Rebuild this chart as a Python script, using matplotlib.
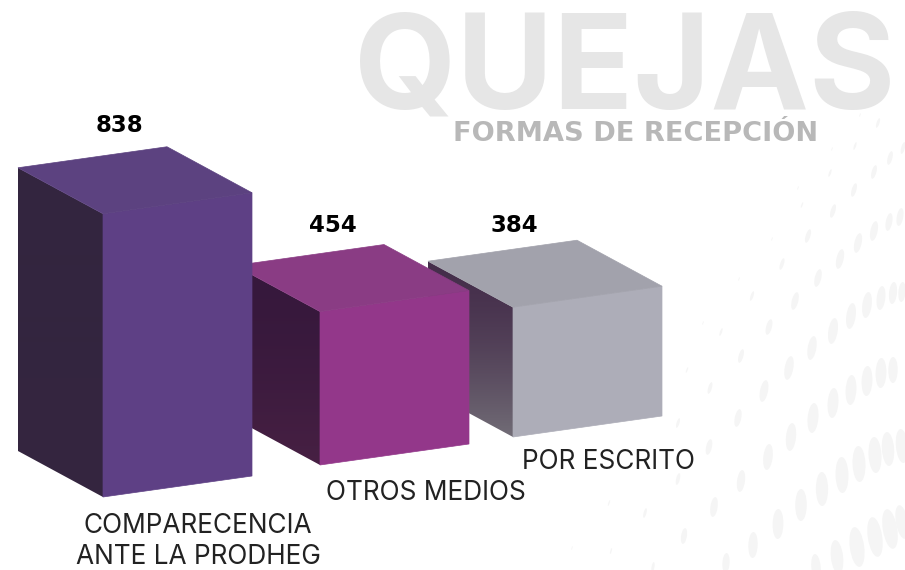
import numpy as np
import matplotlib
matplotlib.use("Agg")
import matplotlib.pyplot as plt
from matplotlib.patches import Ellipse
from matplotlib.colors import to_rgb

categories = ["COMPARECENCIA\nANTE LA PRODHEG", "OTROS MEDIOS", "POR ESCRITO"]
values = [838, 454, 384]
value_labels = ["838", "454", "384"]

# layout, in pixels of the 905x570 picture
px_per_unit = 0.338
front_x = [103, 320, 513]
base_y = [497, 465, 437]
left_dx, left_dy = 85, 46
right_dx, right_dy = 149, 21

front_col = ["#5e4085", "#93378a", "#adadb8"]
top_col = ["#5c4280", "#8a3c84", "#a2a2ac"]
side_top = ["#33253f", "#36183c", "#452e4b"]
side_bot = ["#35263f", "#472043", "#716c76"]

label_pos = [(119, 125.5), (333, 226), (514, 226)]
cat_pos = [(198, 541.5), (426, 493), (608, 462)]

# faint dots behind the chart: x, y, half height (pixels)
dot_x = [818, 795, 769, 752, 741, 721, 710, 687, 678, 709, 738, 764, 789, 812, 833, 851, 867, 881, 893, 902,
         678, 741, 768, 791, 813, 833, 851, 867, 881, 893,
         645, 714, 684, 753, 778, 801, 822, 842, 859, 875, 888, 902,
         726, 653, 816, 837, 857, 875, 890, 902, 611, 609, 572,
         840, 858, 874, 889, 900, 782, 808, 833, 854, 874, 890, 903,
         802, 830, 855, 878, 772, 739, 798, 832, 860, 703]
dot_y = [278, 301, 327, 296, 356, 332, 388, 370, 423, 447, 418, 391, 368, 348, 331, 316, 305, 298, 293, 292,
         479, 481, 457, 437, 418, 403, 390, 381, 373, 370,
         513, 507, 536, 545, 524, 505, 489, 475, 464, 455, 449, 446,
         563, 567, 567, 557, 547, 537, 529, 522, 551, 503, 548,
         259, 243, 231, 222, 217, 264, 236, 211, 190, 172, 158, 148,
         205, 173, 146, 123, 239, 279, 188, 149, 115, 323]
dot_h = [9, 9, 8, 5, 7, 4, 6, 3, 5, 8, 9, 11, 12, 12, 13, 13, 13, 12, 11, 10,
         6, 11, 13, 14, 15, 15, 15, 15, 15, 13,
         5, 10, 8, 13, 15, 16, 17, 18, 18, 18, 17, 17,
         10, 5, 13, 17, 20, 20, 20, 17, 3, 3, 2,
         10, 10, 10, 9, 9, 6, 7, 7, 7, 7, 7, 6,
         3, 4, 4, 5, 2, 2, 2, 2, 2, 2]

fig = plt.figure(figsize=(9.05, 5.70), dpi=100)
ax = fig.add_axes([0, 0, 1, 1])
ax.set_xlim(0, 905)
ax.set_ylim(570, 0)
ax.axis("off")

for x, y, h in zip(dot_x, dot_y, dot_h):
    ratio = 0.36 if h >= 8 else 0.16 + 0.025 * h
    tilt = 5 - 0.092 * (x - 902) - 0.065 * (y - 291)
    ax.add_patch(Ellipse((x, y), h * 2 * ratio, h * 2, angle=tilt,
                         color="#f5f5f5", lw=0, zorder=0))

ax.text(354, 109, "QUEJAS", fontsize=95, family="Inter", fontweight="bold",
        color="#e6e6e6", ha="left", va="baseline", zorder=1)
ax.text(636, 141, "FORMAS DE RECEPCIÓN", fontsize=19.6, family="DejaVu Sans", fontweight="bold",
        color="#b8b8b8", ha="center", va="baseline", zorder=1)

# draw back to front: grey box first, purple box last
for i in [2, 1, 0]:
    h = values[i] * px_per_unit
    fx, by = front_x[i], base_y[i]
    ty = by - h
    z = 2 + (2 - i)

    # side face with a small vertical shading
    grad = (np.linspace(0, 1, 64) ** 1.6)[:, None, None]
    img = (1 - grad) * np.array(to_rgb(side_top[i]))[None, None, :] + grad * np.array(to_rgb(side_bot[i]))[None, None, :]
    side = plt.Polygon([(fx, ty), (fx - left_dx, ty - left_dy), (fx - left_dx, by - left_dy), (fx, by)],
                       closed=True, lw=0, fc="none", zorder=z)
    ax.add_patch(side)
    im = ax.imshow(img, extent=(fx - left_dx, fx, by, ty - left_dy), aspect="auto", zorder=z)
    im.set_clip_path(side)

    ax.fill([fx, fx + right_dx, fx + right_dx, fx], [ty, ty - right_dy, by - right_dy, by],
            fc=front_col[i], ec=front_col[i], lw=0.5, zorder=z)
    ax.fill([fx, fx - left_dx, fx - left_dx + right_dx, fx + right_dx],
            [ty, ty - left_dy, ty - left_dy - right_dy, ty - right_dy],
            fc=top_col[i], ec=top_col[i], lw=0.5, zorder=z)

for i in range(3):
    ax.text(label_pos[i][0], label_pos[i][1], value_labels[i], fontsize=16.5, family="DejaVu Sans",
            fontweight="bold", color="black", ha="center", va="center", zorder=6)
    ax.text(cat_pos[i][0], cat_pos[i][1], categories[i], fontsize=18.9, family="Inter",
            color="#222222", ha="center", va="center", linespacing=1.22, zorder=6)

ax.set_xlim(0, 905)
ax.set_ylim(570, 0)
fig.savefig("out.png", dpi=100)
